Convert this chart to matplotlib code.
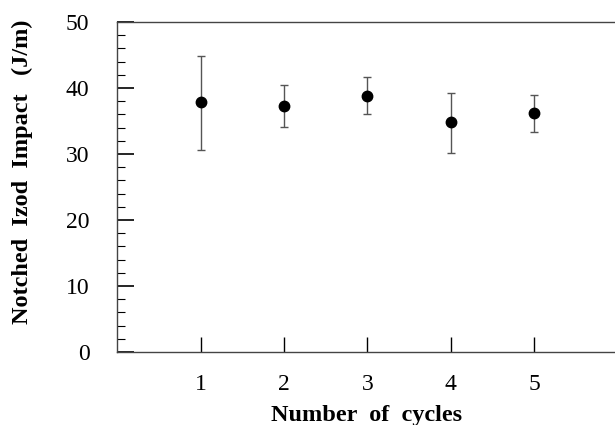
import matplotlib
matplotlib.use('Agg')
import matplotlib.pyplot as plt
from matplotlib.ticker import MultipleLocator

cycles = [1, 2, 3, 4, 5]
impact = [37.8, 37.3, 38.8, 34.8, 36.2]
err_hi = [44.9, 40.4, 41.6, 39.3, 39.0]
err_lo = [30.6, 34.1, 36.1, 30.2, 33.4]

lower = [m - lo for m, lo in zip(impact, err_lo)]
upper = [hi - m for m, hi in zip(impact, err_hi)]

plt.rcParams['font.family'] = 'Liberation Serif'

fig = plt.figure(figsize=(6.15, 4.25), dpi=100)
ax = fig.add_axes([0.1907, 0.1718, 0.8093, 0.7765])

ax.errorbar(cycles, impact, yerr=[lower, upper], fmt='o', color='black',
            ecolor='#555555', elinewidth=1.0, capsize=3, capthick=1.0,
            markersize=7.5)

ax.set_xlim(0, 5.97)
ax.set_ylim(0, 50)
ax.set_xticks(cycles)
ax.yaxis.set_major_locator(MultipleLocator(10))
ax.yaxis.set_minor_locator(MultipleLocator(2))

ax.spines['right'].set_visible(False)
for s in ['left', 'top', 'bottom']:
    ax.spines[s].set_color('#444444')
    ax.spines[s].set_linewidth(1.0)

ax.tick_params(axis='y', which='major', direction='in', length=12, width=1.2,
               pad=20, labelsize=17)
ax.tick_params(axis='y', which='minor', direction='in', length=6, width=0.8)
ax.tick_params(axis='x', which='major', direction='in', length=11, width=1.0,
               pad=16, labelsize=17)
ax.tick_params(right=False, top=False)

ax.set_xlabel('Number  of  cycles', fontsize=17.5, fontweight='bold', labelpad=7)
ax.set_ylabel('Notched  Izod  Impact   (J/m)', fontsize=17.5, fontweight='bold')
ax.yaxis.set_label_coords(-0.169, 0.545)

fig.savefig('out.png', dpi=100)
